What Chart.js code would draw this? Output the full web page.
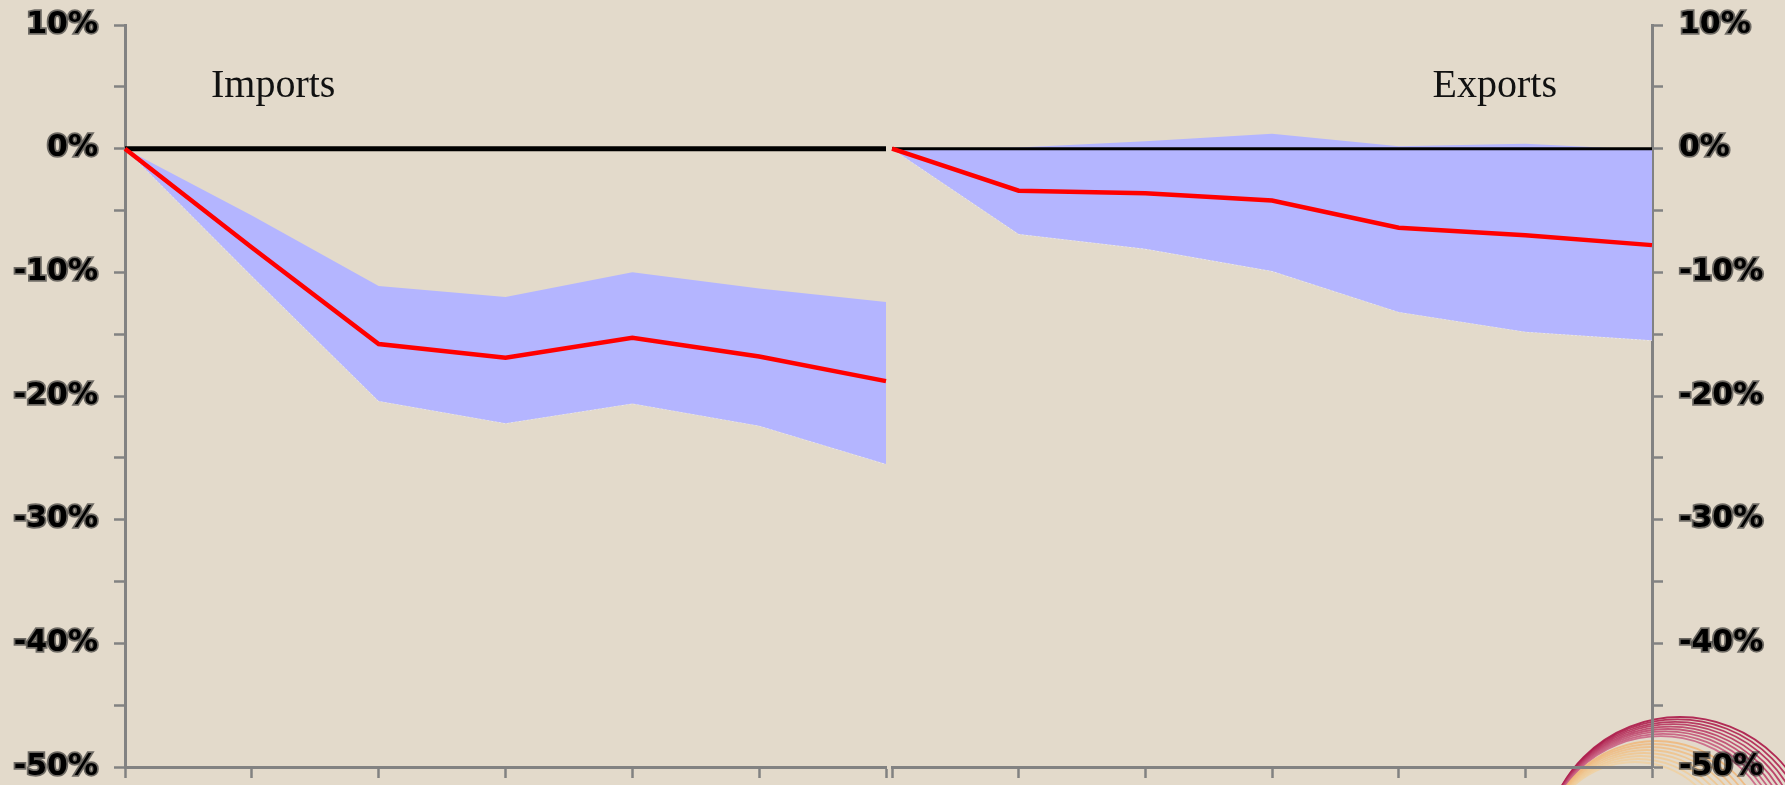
<!DOCTYPE html>
<html>
<head>
<meta charset="utf-8">
<script src="https://cdn.jsdelivr.net/npm/chart.js@4.4.1/dist/chart.umd.min.js"></script>
<style>
  html, body { margin: 0; padding: 0; }
  body { width: 1785px; height: 785px; background: #e3dacb; position: relative; overflow: hidden; }
  canvas { position: absolute; top: 0; }
  #imports { left: 0; }
  #exports { left: 888px; }
</style>
</head>
<body>
<canvas id="imports" width="888" height="785"></canvas>
<canvas id="exports" width="897" height="785"></canvas>
<script>
// Periods after the shock (not labelled on the axis)
const periods = ['0', '1', '2', '3', '4', '5', '6'];

// Imports: central path and confidence band (% deviation)
const importsCentral = [0, -8.0, -15.8, -16.9, -15.3, -16.8, -18.8];
const importsUpper   = [0, -5.4, -11.1, -12.0, -10.0, -11.3, -12.4];
const importsLower   = [0, -10.3, -20.4, -22.2, -20.6, -22.4, -25.5];

// Exports: central path and confidence band (% deviation)
const exportsCentral = [0, -3.4, -3.6, -4.2, -6.4, -7.0, -7.8];
const exportsUpper   = [0, 0.1, 0.6, 1.2, 0.2, 0.4, -0.1];
const exportsLower   = [0, -6.9, -8.1, -9.9, -13.2, -14.8, -15.5];

// Zero reference line
const zeroRef = [0, 0, 0, 0, 0, 0, 0];

// Value axis range
const yMin = -50, yMax = 10, yStep = 5;

const AXIS_GREY = 'rgb(130,130,130)';
const BAND = 'rgb(180,181,255)';

function panelTitle(text, place) {
  return {
    id: 'panelTitle',
    afterDraw(chart) {
      const { ctx, chartArea } = chart;
      ctx.save();
      ctx.font = '40px "Liberation Serif", "Times New Roman", serif';
      ctx.fillStyle = '#111';
      ctx.textBaseline = 'alphabetic';
      const y = chartArea.top + 72;
      if (place === 'left') {
        ctx.textAlign = 'left';
        ctx.fillText(text, chartArea.left + 86, y);
      } else {
        ctx.textAlign = 'right';
        ctx.fillText(text, chartArea.right - 95, y);
      }
      ctx.restore();
    }
  };
}

// Corner emblem: fan of tangent rings, drawn beneath the axes
const emblem = {
  id: 'emblem',
  beforeDraw(chart) {
    const ctx = chart.ctx;
    const ox = 1544 - 888, oy = 853;
    ctx.save();
    ctx.lineWidth = 1.8;
    for (let i = 0; i < 9; i++) {
      const r = 136 - i * 2.4;
      ctx.strokeStyle = `rgba(${170 + i * 4},${18 + i * 10},${68 + i * 8},0.88)`;
      ctx.beginPath();
      ctx.arc(ox + r, oy, r, Math.PI, Math.PI * 2);
      ctx.stroke();
    }
    for (let i = 0; i < 8; i++) {
      const r = 112 - i * 3;
      ctx.strokeStyle = `rgba(240,${180 + i * 4},${115 + i * 6},0.8)`;
      ctx.beginPath();
      ctx.arc(ox + r, oy, r, Math.PI, Math.PI * 2);
      ctx.stroke();
    }
    ctx.restore();
  }
};

function yAxis(position, width) {
  return {
    position,
    min: yMin,
    max: yMax,
    afterFit(scale) {
      scale.width = width;
      scale.paddingTop = 0;
      scale.paddingBottom = 0;
    },
    border: { display: true, color: AXIS_GREY, width: 3 },
    grid: {
      drawOnChartArea: false,
      drawTicks: true,
      tickLength: 11,
      tickColor: AXIS_GREY,
      tickWidth: 2.5
    },
    ticks: {
      stepSize: yStep,
      padding: 16,
      color: '#000',
      font: { family: '"DejaVu Sans", sans-serif', size: 30, weight: 'bold' },
      textStrokeColor: 'rgba(30,30,30,0.6)',
      textStrokeWidth: 3.5,
      callback: v => (v % 10 === 0 ? `${v}%` : '')
    }
  };
}

function xAxis() {
  return {
    type: 'category',
    afterFit(scale) {
      scale.height = 18;
      scale.paddingLeft = 0;
      scale.paddingRight = 0;
    },
    border: { display: true, color: AXIS_GREY, width: 3 },
    grid: {
      drawOnChartArea: false,
      drawTicks: true,
      tickLength: 11,
      tickColor: AXIS_GREY,
      tickWidth: 2.5,
      offset: false
    },
    ticks: { display: true, autoSkip: false, maxRotation: 0, callback: () => '' }
  };
}

function panel(canvasId, central, upper, lower, opts) {
  return new Chart(document.getElementById(canvasId), {
    type: 'line',
    data: {
      labels: periods,
      datasets: [
        { label: 'central', data: central, borderColor: '#ff0000', borderWidth: 4.5,
          pointRadius: 0, tension: 0, fill: false, clip: false },
        { label: 'zero', data: zeroRef, borderColor: '#000', borderWidth: opts.zeroWidth,
          pointRadius: 0, fill: false, clip: false },
        { label: 'upper', data: upper, borderWidth: 0, borderColor: 'rgba(0,0,0,0)',
          backgroundColor: BAND, pointRadius: 0, fill: '+1', clip: false },
        { label: 'lower', data: lower, borderWidth: 1.2, borderColor: 'rgba(236,236,255,0.9)',
          borderDash: [2, 2], pointRadius: 0, fill: false, clip: false }
      ]
    },
    options: {
      responsive: false,
      animation: false,
      layout: { padding: opts.padding },
      plugins: { legend: { display: false }, tooltip: { enabled: false } },
      scales: { x: xAxis(), y: yAxis(opts.axisPos, opts.axisWidth) }
    },
    plugins: opts.plugins
  });
}

panel('imports', importsCentral, importsUpper, importsLower, {
  axisPos: 'left', axisWidth: 125, zeroWidth: 5,
  padding: { top: 25, right: 2, left: 0, bottom: 0 },
  plugins: [panelTitle('Imports', 'left')]
});

panel('exports', exportsCentral, exportsUpper, exportsLower, {
  axisPos: 'right', axisWidth: 133, zeroWidth: 3,
  padding: { top: 25, right: 0, left: 4, bottom: 0 },
  plugins: [emblem, panelTitle('Exports', 'right')]
});
</script>
</body>
</html>
